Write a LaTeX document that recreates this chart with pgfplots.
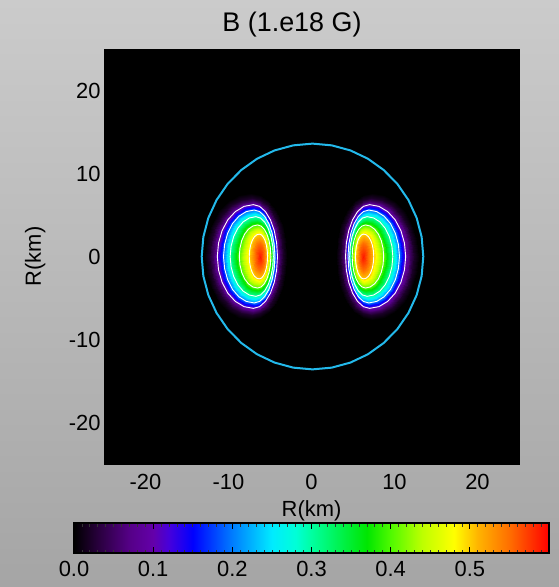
\documentclass[border=0pt]{standalone}
\usepackage{fontspec}
\setmainfont{Liberation Sans}
\usepackage{pgfplots}
\usepackage{pgfplotstable}
\pgfplotsset{compat=1.18}

\definecolor{bgtop}{RGB}{203,203,203}
\definecolor{bgbot}{RGB}{165,165,165}
\definecolor{limb}{RGB}{35,185,235}

% Toroidal field |B| (units of 1e18 G) on a curvilinear mesh around the torus axis.
% Each block of 25 rows is one closed level ring (15 degree steps), from the
% field maximum outwards; xr is the right lobe, xl its mirror on the left.
\pgfplotstableread{
xr xl z B
6.25 -6.25 0 0.59
6.25 -6.25 0 0.59
6.25 -6.25 0 0.59
6.25 -6.25 0 0.59
6.25 -6.25 0 0.59
6.25 -6.25 0 0.59
6.25 -6.25 0 0.59
6.25 -6.25 0 0.59
6.25 -6.25 0 0.59
6.25 -6.25 0 0.59
6.25 -6.25 0 0.59
6.25 -6.25 0 0.59
6.25 -6.25 0 0.59
6.25 -6.25 0 0.59
6.25 -6.25 0 0.59
6.25 -6.25 0 0.59
6.25 -6.25 0 0.59
6.25 -6.25 0 0.59
6.25 -6.25 0 0.59
6.25 -6.25 0 0.59
6.25 -6.25 0 0.59
6.25 -6.25 0 0.59
6.25 -6.25 0 0.59
6.25 -6.25 0 0.59
6.25 -6.25 0 0.59
6.85 -6.85 0 0.55
6.83 -6.83 0.41 0.55
6.77 -6.77 0.80 0.55
6.67 -6.67 1.13 0.55
6.55 -6.55 1.39 0.55
6.41 -6.41 1.55 0.55
6.25 -6.25 1.60 0.55
6.11 -6.11 1.55 0.55
5.98 -5.98 1.39 0.55
5.86 -5.86 1.13 0.55
5.77 -5.77 0.80 0.55
5.72 -5.72 0.41 0.55
5.70 -5.70 0 0.55
5.72 -5.72 -0.41 0.55
5.77 -5.77 -0.80 0.55
5.86 -5.86 -1.13 0.55
5.98 -5.98 -1.39 0.55
6.11 -6.11 -1.55 0.55
6.25 -6.25 -1.60 0.55
6.41 -6.41 -1.55 0.55
6.55 -6.55 -1.39 0.55
6.67 -6.67 -1.13 0.55
6.77 -6.77 -0.80 0.55
6.83 -6.83 -0.41 0.55
6.85 -6.85 0 0.55
7.50 -7.50 0 0.5
7.46 -7.46 0.70 0.5
7.34 -7.34 1.35 0.5
7.15 -7.15 1.91 0.5
6.90 -6.90 2.34 0.5
6.61 -6.61 2.61 0.5
6.30 -6.30 2.70 0.5
6.04 -6.04 2.61 0.5
5.80 -5.80 2.34 0.5
5.59 -5.59 1.91 0.5
5.43 -5.43 1.35 0.5
5.33 -5.33 0.70 0.5
5.30 -5.30 0 0.5
5.33 -5.33 -0.70 0.5
5.43 -5.43 -1.35 0.5
5.59 -5.59 -1.91 0.5
5.80 -5.80 -2.34 0.5
6.04 -6.04 -2.61 0.5
6.30 -6.30 -2.70 0.5
6.61 -6.61 -2.61 0.5
6.90 -6.90 -2.34 0.5
7.15 -7.15 -1.91 0.5
7.34 -7.34 -1.35 0.5
7.46 -7.46 -0.70 0.5
7.50 -7.50 0 0.5
8.70 -8.70 0 0.4
8.62 -8.62 0.98 0.4
8.41 -8.41 1.90 0.4
8.06 -8.06 2.69 0.4
7.60 -7.60 3.29 0.4
7.07 -7.07 3.67 0.4
6.50 -6.50 3.80 0.4
6.09 -6.09 3.67 0.4
5.70 -5.70 3.29 0.4
5.37 -5.37 2.69 0.4
5.11 -5.11 1.90 0.4
4.95 -4.95 0.98 0.4
4.90 -4.90 0 0.4
4.95 -4.95 -0.98 0.4
5.11 -5.11 -1.90 0.4
5.37 -5.37 -2.69 0.4
5.70 -5.70 -3.29 0.4
6.09 -6.09 -3.67 0.4
6.50 -6.50 -3.80 0.4
7.07 -7.07 -3.67 0.4
7.60 -7.60 -3.29 0.4
8.06 -8.06 -2.69 0.4
8.41 -8.41 -1.90 0.4
8.62 -8.62 -0.98 0.4
8.70 -8.70 0 0.4
9.80 -9.80 0 0.3
9.69 -9.69 1.24 0.3
9.38 -9.38 2.40 0.3
8.89 -8.89 3.39 0.3
8.25 -8.25 4.16 0.3
7.50 -7.50 4.64 0.3
6.70 -6.70 4.80 0.3
6.16 -6.16 4.64 0.3
5.65 -5.65 4.16 0.3
5.22 -5.22 3.39 0.3
4.88 -4.88 2.40 0.3
4.67 -4.67 1.24 0.3
4.60 -4.60 0 0.3
4.67 -4.67 -1.24 0.3
4.88 -4.88 -2.40 0.3
5.22 -5.22 -3.39 0.3
5.65 -5.65 -4.16 0.3
6.16 -6.16 -4.64 0.3
6.70 -6.70 -4.80 0.3
7.50 -7.50 -4.64 0.3
8.25 -8.25 -4.16 0.3
8.89 -8.89 -3.39 0.3
9.38 -9.38 -2.40 0.3
9.69 -9.69 -1.24 0.3
9.80 -9.80 0 0.3
10.60 -10.60 0 0.2
10.47 -10.47 1.45 0.2
10.10 -10.10 2.80 0.2
9.52 -9.52 3.96 0.2
8.75 -8.75 4.85 0.2
7.86 -7.86 5.41 0.2
6.90 -6.90 5.60 0.2
6.25 -6.25 5.41 0.2
5.65 -5.65 4.85 0.2
5.13 -5.13 3.96 0.2
4.74 -4.74 2.80 0.2
4.49 -4.49 1.45 0.2
4.40 -4.40 0 0.2
4.49 -4.49 -1.45 0.2
4.74 -4.74 -2.80 0.2
5.13 -5.13 -3.96 0.2
5.65 -5.65 -4.85 0.2
6.25 -6.25 -5.41 0.2
6.90 -6.90 -5.60 0.2
7.86 -7.86 -5.41 0.2
8.75 -8.75 -4.85 0.2
9.52 -9.52 -3.96 0.2
10.10 -10.10 -2.80 0.2
10.47 -10.47 -1.45 0.2
10.60 -10.60 0 0.2
11.35 -11.35 0 0.1
11.20 -11.20 1.62 0.1
10.77 -10.77 3.13 0.1
10.08 -10.08 4.42 0.1
9.18 -9.18 5.41 0.1
8.13 -8.13 6.04 0.1
7.00 -7.00 6.25 0.1
6.25 -6.25 6.04 0.1
5.55 -5.55 5.41 0.1
4.95 -4.95 4.42 0.1
4.49 -4.49 3.13 0.1
4.20 -4.20 1.62 0.1
4.10 -4.10 0 0.1
4.20 -4.20 -1.62 0.1
4.49 -4.49 -3.13 0.1
4.95 -4.95 -4.42 0.1
5.55 -5.55 -5.41 0.1
6.25 -6.25 -6.04 0.1
7.00 -7.00 -6.25 0.1
8.13 -8.13 -6.04 0.1
9.18 -9.18 -5.41 0.1
10.08 -10.08 -4.42 0.1
10.77 -10.77 -3.13 0.1
11.20 -11.20 -1.62 0.1
11.35 -11.35 0 0.1
11.85 -11.85 0 0.05
11.69 -11.69 1.73 0.05
11.21 -11.21 3.35 0.05
10.46 -10.46 4.74 0.05
9.48 -9.48 5.80 0.05
8.33 -8.33 6.47 0.05
7.10 -7.10 6.70 0.05
6.23 -6.23 6.47 0.05
5.43 -5.43 5.80 0.05
4.73 -4.73 4.74 0.05
4.20 -4.20 3.35 0.05
3.86 -3.86 1.73 0.05
3.75 -3.75 0 0.05
3.86 -3.86 -1.73 0.05
4.20 -4.20 -3.35 0.05
4.73 -4.73 -4.74 0.05
5.43 -5.43 -5.80 0.05
6.23 -6.23 -6.47 0.05
7.10 -7.10 -6.70 0.05
8.33 -8.33 -6.47 0.05
9.48 -9.48 -5.80 0.05
10.46 -10.46 -4.74 0.05
11.21 -11.21 -3.35 0.05
11.69 -11.69 -1.73 0.05
11.85 -11.85 0 0.05
12.30 -12.30 0 0.02
12.13 -12.13 1.84 0.02
11.62 -11.62 3.55 0.02
10.81 -10.81 5.02 0.02
9.75 -9.75 6.15 0.02
8.52 -8.52 6.86 0.02
7.20 -7.20 7.10 0.02
6.22 -6.22 6.86 0.02
5.30 -5.30 6.15 0.02
4.51 -4.51 5.02 0.02
3.91 -3.91 3.55 0.02
3.53 -3.53 1.84 0.02
3.40 -3.40 0 0.02
3.53 -3.53 -1.84 0.02
3.91 -3.91 -3.55 0.02
4.51 -4.51 -5.02 0.02
5.30 -5.30 -6.15 0.02
6.22 -6.22 -6.86 0.02
7.20 -7.20 -7.10 0.02
8.52 -8.52 -6.86 0.02
9.75 -9.75 -6.15 0.02
10.81 -10.81 -5.02 0.02
11.62 -11.62 -3.55 0.02
12.13 -12.13 -1.84 0.02
12.30 -12.30 0 0.02
12.90 -12.90 0 0
12.71 -12.71 1.99 0
12.15 -12.15 3.85 0
11.26 -11.26 5.44 0
10.10 -10.10 6.67 0
8.75 -8.75 7.44 0
7.30 -7.30 7.70 0
6.16 -6.16 7.44 0
5.10 -5.10 6.67 0
4.19 -4.19 5.44 0
3.49 -3.49 3.85 0
3.05 -3.05 1.99 0
2.90 -2.90 0 0
3.05 -3.05 -1.99 0
3.49 -3.49 -3.85 0
4.19 -4.19 -5.44 0
5.10 -5.10 -6.67 0
6.16 -6.16 -7.44 0
7.30 -7.30 -7.70 0
8.75 -8.75 -7.44 0
10.10 -10.10 -6.67 0
11.26 -11.26 -5.44 0
12.15 -12.15 -3.85 0
12.71 -12.71 -1.99 0
12.90 -12.90 0 0
}\blob

% Stellar surface
\pgfplotstableread{
x y
13.47 0
13.27 2.36
12.67 4.65
11.68 6.80
10.35 8.74
8.70 10.42
6.80 11.78
4.69 12.78
2.44 13.39
0.12 13.60
-2.20 13.39
-4.45 12.78
-6.56 11.78
-8.46 10.42
-10.11 8.74
-11.44 6.80
-12.43 4.65
-13.03 2.36
-13.23 0
-13.03 -2.36
-12.43 -4.65
-11.44 -6.80
-10.11 -8.74
-8.46 -10.42
-6.56 -11.78
-4.45 -12.78
-2.20 -13.39
0.12 -13.60
2.44 -13.39
4.69 -12.78
6.80 -11.78
8.70 -10.42
10.35 -8.74
11.68 -6.80
12.67 -4.65
13.27 -2.36
13.47 0
}\surface

\begin{document}
\begin{tikzpicture}
\fill[top color=bgtop, bottom color=bgbot] (0,0) rectangle (559bp,587bp);
\begin{axis}[
  at={(104bp,123bp)}, anchor=south west,
  scale only axis, width=415bp, height=415bp,
  xmin=-25, xmax=25, ymin=-25, ymax=25,
  axis background/.style={fill=black},
  axis line style={black},
  xtick={-20,-10,0,10,20}, ytick={-20,-10,0,10,20},
  tick style={draw=none},
  /pgf/number format/assume math mode=true,
  tick label style={font=\fontsize{22}{26}\selectfont, text=black},
  xticklabel style={yshift=-7bp},
  xlabel={R(km)}, ylabel={R(km)},
  label style={font=\fontsize{22}{26}\selectfont},
  xlabel style={at={(axis description cs:0.5,-0.127)}, anchor=base},
  ylabel style={at={(axis description cs:-0.152,0.5)}, anchor=base},
  title={B (1.e18 G)},
  title style={at={(axis description cs:0.453,1.0282)}, anchor=base,
    font=\fontsize{27}{32}\selectfont},
  colormap={bfield}{
    rgb255(0cm)=(0,0,0);
    rgb255(3cm)=(40,0,60);
    rgb255(7cm)=(85,0,135);
    rgb255(10cm)=(100,0,170);
    rgb255(12cm)=(70,0,220);
    rgb255(15cm)=(0,0,255);
    rgb255(20cm)=(0,125,255);
    rgb255(25cm)=(0,235,255);
    rgb255(28cm)=(0,255,215);
    rgb255(30cm)=(0,255,160);
    rgb255(37cm)=(0,230,0);
    rgb255(40cm)=(80,250,0);
    rgb255(44cm)=(190,255,0);
    rgb255(48cm)=(255,255,0);
    rgb255(51cm)=(255,180,0);
    rgb255(55cm)=(255,110,0);
    rgb255(60cm)=(255,0,0)
  },
  point meta min=0, point meta max=0.6,
  colorbar horizontal,
  colorbar/width=30bp,
  colorbar style={
    at={(-0.0723,-0.2145)},
    anchor=south west,
    scale only axis, width=475bp, height=30bp,
    xtick={0,0.1,0.2,0.3,0.4,0.5},
    minor xtick={0.01,0.02,...,0.59},
    ytick=\empty,
    xtick pos=both, xticklabel pos=lower,
    tick align=inside,
    major tick length=6bp, minor tick length=3.5bp,
    major tick style={draw=black, line width=0.9bp},
    minor tick style={draw=black!80, line width=0.7bp},
    axis line style={black, line width=1.2bp},
    /pgf/number format/assume math mode=true,
    tick label style={font=\fontsize{22}{26}\selectfont, text=black},
    xticklabel style={yshift=-5bp,
      /pgf/number format/fixed,
      /pgf/number format/fixed zerofill,
      /pgf/number format/precision=1},
  },
]
% field magnitude, both lobes
\addplot[surf, shader=interp, mesh/cols=25, point meta=explicit]
  table[x=xr, y=z, meta=B] {\blob};
\addplot[surf, shader=interp, mesh/cols=25, point meta=explicit]
  table[x=xl, y=z, meta=B] {\blob};
% level lines 0.1 ... 0.5
\addplot[white, line width=0.9bp, restrict expr to domain={\thisrow{B}}{0.499:0.501}] table[x=xr, y=z] {\blob};
\addplot[white, line width=0.9bp, restrict expr to domain={\thisrow{B}}{0.399:0.401}] table[x=xr, y=z] {\blob};
\addplot[white, line width=0.9bp, restrict expr to domain={\thisrow{B}}{0.299:0.301}] table[x=xr, y=z] {\blob};
\addplot[white, line width=0.9bp, restrict expr to domain={\thisrow{B}}{0.199:0.201}] table[x=xr, y=z] {\blob};
\addplot[white, line width=0.9bp, restrict expr to domain={\thisrow{B}}{0.099:0.101}] table[x=xr, y=z] {\blob};
\addplot[white, line width=0.9bp, restrict expr to domain={\thisrow{B}}{0.499:0.501}] table[x=xl, y=z] {\blob};
\addplot[white, line width=0.9bp, restrict expr to domain={\thisrow{B}}{0.399:0.401}] table[x=xl, y=z] {\blob};
\addplot[white, line width=0.9bp, restrict expr to domain={\thisrow{B}}{0.299:0.301}] table[x=xl, y=z] {\blob};
\addplot[white, line width=0.9bp, restrict expr to domain={\thisrow{B}}{0.199:0.201}] table[x=xl, y=z] {\blob};
\addplot[white, line width=0.9bp, restrict expr to domain={\thisrow{B}}{0.099:0.101}] table[x=xl, y=z] {\blob};
% stellar surface
\addplot[limb, line width=2bp, line join=round] table[x=x, y=y] {\surface};
\end{axis}
\pgfresetboundingbox
\useasboundingbox (0,0) rectangle (559bp,587bp);
\end{tikzpicture}
\end{document}
